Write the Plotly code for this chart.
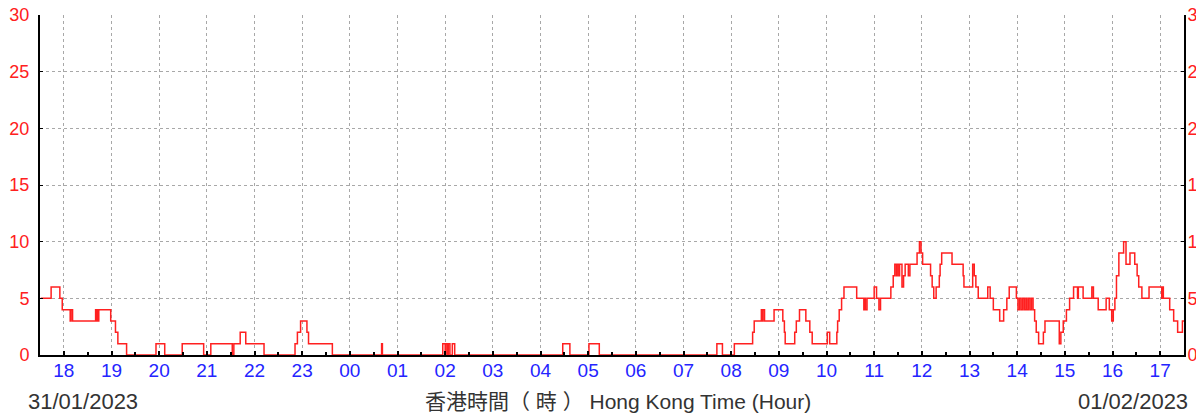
import plotly.graph_objects as go

# ---- data: change points (time, value) ----
day1_times = ["17:31", "17:44", "17:55", "17:58", "18:08", "18:09", "18:11", "18:40", "18:41", "18:42",
              "18:43", "18:44", "18:59", "19:05", "19:08", "19:19", "19:56", "20:07", "20:29", "20:56",
              "21:05", "21:32", "21:34", "21:42", "21:49", "22:12", "22:51", "22:54", "22:58", "23:06",
              "23:08", "23:38"]
day1_vals = [5, 6, 5, 4, 3, 4, 3, 4, 3, 4,
             3, 4, 3, 2, 1, 0, 1, 0, 1, 0,
             1, 0, 1, 2, 1, 0, 1, 2, 3, 2,
             1, 0]

day2_times = ["00:40", "00:41", "01:57", "02:00", "02:01", "02:03", "02:04", "02:06", "02:09", "02:12",
              "04:28", "04:37", "05:01", "05:14", "07:42", "07:49", "08:04", "08:27", "08:29", "08:38",
              "08:39", "08:40", "08:42", "08:54", "09:05", "09:07", "09:08", "09:20", "09:22", "09:26",
              "09:34", "09:39", "09:42", "10:01", "10:04", "10:13", "10:14", "10:16", "10:19", "10:22",
              "10:38", "10:47", "10:48", "10:49", "10:51", "11:00", "11:03", "11:06", "11:08", "11:21",
              "11:24", "11:26", "11:28", "11:29", "11:31", "11:32", "11:35", "11:37", "11:39", "11:43",
              "11:45", "11:54", "11:57", "11:59", "12:01", "12:11", "12:13", "12:15", "12:18", "12:22",
              "12:23", "12:25", "12:38", "12:52", "12:53", "13:04", "13:06", "13:08", "13:11", "13:23",
              "13:26", "13:30", "13:38", "13:43", "13:47", "13:50", "13:59", "14:01", "14:03", "14:05",
              "14:07", "14:09", "14:11", "14:12", "14:14", "14:16", "14:18", "14:20", "14:22", "14:24",
              "14:27", "14:33", "14:35", "14:53", "14:55", "14:58", "15:02", "15:06", "15:11", "15:16",
              "15:17", "15:23", "15:34", "15:36", "15:42", "15:52", "15:56", "15:59", "16:01", "16:03",
              "16:05", "16:08", "16:14", "16:17", "16:22", "16:28", "16:31", "16:33", "16:37", "16:46",
              "17:02", "17:03", "17:04", "17:12", "17:17", "17:22", "17:28", "17:30"]
day2_vals = [1, 0, 1, 0, 1, 0, 1, 0, 1, 0,
             1, 0, 1, 0, 1, 0, 1, 2, 3, 4,
             3, 4, 3, 4, 3, 2, 1, 2, 3, 4,
             3, 2, 1, 2, 1, 2, 3, 4, 5, 6,
             5, 4, 5, 4, 5, 6, 5, 4, 5, 6,
             7, 8, 7, 8, 7, 8, 6, 7, 8, 7,
             8, 9, 10, 9, 8, 7, 6, 5, 6, 7,
             8, 9, 8, 7, 6, 8, 7, 6, 5, 6,
             5, 4, 3, 4, 5, 6, 5, 4, 5, 4,
             5, 4, 5, 4, 5, 4, 5, 4, 3, 2,
             1, 2, 3, 1, 2, 3, 4, 5, 6, 5,
             6, 5, 6, 5, 4, 5, 4, 3, 4, 5,
             7, 9, 10, 8, 9, 8, 7, 6, 5, 6,
             5, 6, 5, 4, 3, 2, 3, 3]

y_ticks = [0, 5, 10, 15, 20, 25, 30]
x_start = "2023-01-31 17:30"
x_end = "2023-02-01 17:30"
date_left = "31/01/2023"
date_right = "01/02/2023"
axis_title = "香港時間（ 時 ） Hong Kong Time (Hour)"

xs = ["2023-01-31 " + t for t in day1_times] + ["2023-02-01 " + t for t in day2_times]
ys = day1_vals + day2_vals

FONT = "Liberation Sans, Arial, Noto Sans CJK TC, sans-serif"
GRID = "#a8a8a8"

fig = go.Figure()
fig.add_trace(go.Scatter(x=xs, y=ys, mode="lines", line=dict(color="#ff2020", width=1.5, shape="hv"),
                         hoverinfo="skip", showlegend=False))
# invisible trace for right axis
fig.add_trace(go.Scatter(x=[xs[0]], y=[0], yaxis="y2", mode="markers", marker=dict(opacity=0),
                         hoverinfo="skip", showlegend=False))

fig.update_layout(
    width=1196, height=406,
    margin=dict(l=32, r=20, t=7, b=59, autoexpand=False),
    paper_bgcolor="white", plot_bgcolor="white",
    showlegend=False,
    font=dict(family=FONT),
    xaxis=dict(
        type="date", range=[x_start, x_end], automargin=False,
        tick0="2023-01-31 18:00", dtick=3600000, tickformat="%H",
        ticks="inside", ticklen=4, tickcolor="black", tickwidth=1.5,
        minor=dict(dtick=1800000, ticks="inside", ticklen=3, tickcolor="black", showgrid=False),
        showline=True, linecolor="black", linewidth=2,
        showgrid=True, gridcolor=GRID, griddash="3px,3px", gridwidth=1,
        tickfont=dict(color="#2424ff", size=19, family=FONT),
        zeroline=False, fixedrange=True, ticklabelstandoff=-3,
        ticklabeloverflow="allow",
    ),
    yaxis=dict(
        range=[0, 30], tickvals=y_ticks, automargin=False,
        ticks="inside", ticklen=3, tickcolor="black",
        showline=True, linecolor="black", linewidth=2,
        showgrid=True, gridcolor=GRID, griddash="3px,3px", gridwidth=1,
        tickfont=dict(color="#ff2020", size=18, family=FONT),
        zeroline=False, ticklabelstandoff=5, ticklabeloverflow="allow",
    ),
    yaxis2=dict(
        range=[0, 30], tickvals=y_ticks, overlaying="y", side="right", automargin=False,
        ticks="inside", ticklen=3, tickcolor="black",
        showline=True, linecolor="black", linewidth=2,
        showgrid=False, zeroline=False, ticklabeloverflow="allow", ticklabelstandoff=-2,
        tickfont=dict(color="#ff2020", size=18, family=FONT),
    ),
    annotations=[
        dict(text=date_left, xref="paper", yref="paper", x=-0.0125, y=0, yshift=-46,
             xanchor="left", yanchor="middle", showarrow=False,
             font=dict(size=22, color="#333333", family=FONT)),
        dict(text=axis_title, xref="paper", yref="paper", x=0.505, y=0, yshift=-46,
             xanchor="center", yanchor="middle", showarrow=False,
             font=dict(size=21, color="#333333", family=FONT)),
        dict(text=date_right, xref="paper", yref="paper", x=1.005, y=0, yshift=-46,
             xanchor="right", yanchor="middle", showarrow=False,
             font=dict(size=22, color="#333333", family=FONT)),
    ],
)

fig.write_html("out.html")
